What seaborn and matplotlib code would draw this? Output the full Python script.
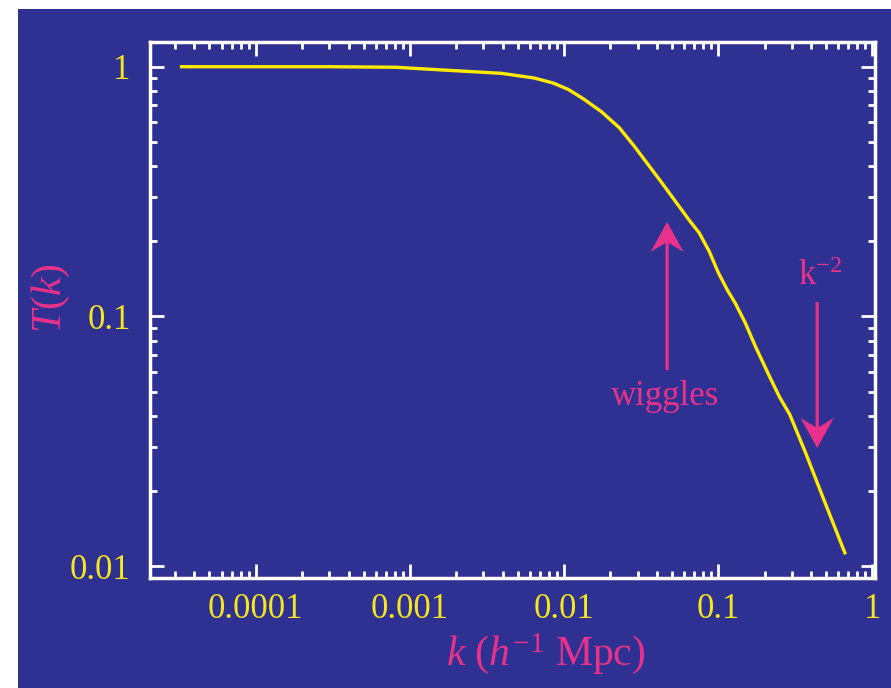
import matplotlib
matplotlib.use("Agg")
import matplotlib.pyplot as plt
from matplotlib.patches import Rectangle, FancyArrow
from matplotlib.ticker import FixedLocator, FixedFormatter, LogLocator, NullFormatter
import seaborn as sns

# Transfer function T(k) sampled along the curve
k_values = [3.3e-5, 1.0e-4, 3.0e-4, 8.07e-4, 1.85e-3, 3.91e-3, 6.41e-3, 8.5e-3,
            0.0107, 0.0135, 0.0175, 0.0228, 0.0288, 0.0432, 0.0648, 0.0753,
            0.0875, 0.100, 0.115, 0.129, 0.150, 0.175, 0.216, 0.250, 0.291,
            0.369, 0.477, 0.663]
T_values = [1.0, 1.0, 1.0, 0.995, 0.966, 0.941, 0.901, 0.860,
            0.810, 0.740, 0.660, 0.570, 0.477, 0.342, 0.243, 0.216,
            0.182, 0.150, 0.127, 0.113, 0.094, 0.0754, 0.0572, 0.0475, 0.0405,
            0.0284, 0.0189, 0.0113]

x_ticks = [1e-4, 1e-3, 1e-2, 1e-1, 1]
x_tick_labels = ["0.0001", "0.001", "0.01", "0.1", "1"]
y_ticks = [0.01, 0.1, 1]
y_tick_labels = ["0.01", "0.1", "1"]

# Annotation anchors (k, T)
wiggles_tail = (0.0466, 0.061)
wiggles_tip = (0.0466, 0.239)
wiggles_text = (0.0452, 0.0441)
slope_tail = (0.4385, 0.1142)
slope_tip = (0.4385, 0.0297)
slope_text = (0.458, 0.1336)

BLUE = "#2E3191"
YELLOW = "#F5E61E"
LINE_YELLOW = "#FFEB00"
PINK = "#E8318A"

plt.rcParams["font.family"] = ["Liberation Serif", "DejaVu Serif"]
plt.rcParams["mathtext.fontset"] = "custom"
plt.rcParams["mathtext.rm"] = "Liberation Serif"
plt.rcParams["mathtext.it"] = "Liberation Serif:italic"

W, H = 891, 688
fig = plt.figure(figsize=(W / 100, H / 100), dpi=100, facecolor="white")
fig.add_artist(Rectangle((18 / W, 0), 1 - 18 / W, 1 - 9 / H,
                         transform=fig.transFigure, facecolor=BLUE,
                         edgecolor="none", zorder=-10))

ax_l, ax_r, ax_t, ax_b = 150, 875, 42, 578
ax = fig.add_axes([ax_l / W, 1 - ax_b / H, (ax_r - ax_l) / W, (ax_b - ax_t) / H])
ax.set_facecolor(BLUE)
ax.set_xscale("log")
ax.set_yscale("log")

sns.lineplot(x=k_values, y=T_values, ax=ax, color=LINE_YELLOW,
             linewidth=2.4, sort=False)

ax.set_xlim(2.06e-5, 1.04)
ax.set_ylim(0.00896, 1.256)

ax.xaxis.set_major_locator(FixedLocator(x_ticks))
ax.xaxis.set_major_formatter(FixedFormatter(x_tick_labels))
ax.yaxis.set_major_locator(FixedLocator(y_ticks))
ax.yaxis.set_major_formatter(FixedFormatter(y_tick_labels))
for axis in (ax.xaxis, ax.yaxis):
    axis.set_minor_locator(LogLocator(base=10, subs=range(2, 10), numticks=20))
    axis.set_minor_formatter(NullFormatter())

ax.tick_params(which="both", direction="in", top=True, right=True,
               color="white", labelcolor=YELLOW, labelsize=25)
ax.tick_params(which="major", length=10, width=2)
ax.tick_params(which="minor", length=5, width=2)
ax.tick_params(axis="y", which="major", pad=14)
ax.tick_params(axis="x", which="major", pad=11)
for sp in ax.spines.values():
    sp.set_color("white")
    sp.set_linewidth(2.5)

xl = ax.set_xlabel(r"$k$ ($h^{-1}$ Mpc)", color=PINK, fontsize=30)
ax.xaxis.set_label_coords((546 - ax_l) / (ax_r - ax_l), (ax_b - 665) / (ax_b - ax_t))
xl.set_va("baseline")
yl = ax.set_ylabel(r"$T(k)$", color=PINK, fontsize=30)
ax.yaxis.set_label_coords((51 - ax_l) / (ax_r - ax_l), (ax_b - 298) / (ax_b - ax_t))
yl.set_va("center")


def to_axes(pt):
    return ax.transAxes.inverted().transform(ax.transData.transform(pt))


def draw_arrow(tail, tip):
    (x0, y0), (x1, y1) = to_axes(tail), to_axes(tip)
    width_px = ax_r - ax_l
    height_px = ax_b - ax_t
    arr = FancyArrow(x0, y0, x1 - x0, y1 - y0, width=3.2 / width_px,
                     head_width=33 / width_px, head_length=30 / height_px,
                     length_includes_head=True, overhang=0.3,
                     transform=ax.transAxes, color=PINK, lw=0, zorder=4)
    ax.add_patch(arr)


draw_arrow(wiggles_tail, wiggles_tip)
draw_arrow(slope_tail, slope_tip)
ax.text(*wiggles_text, "wiggles", color=PINK, fontsize=25,
        ha="center", va="baseline")
ax.text(*slope_text, r"k$^{-2}$", color=PINK, fontsize=25,
        ha="center", va="baseline")

fig.savefig("out.png", dpi=100, facecolor="white")
